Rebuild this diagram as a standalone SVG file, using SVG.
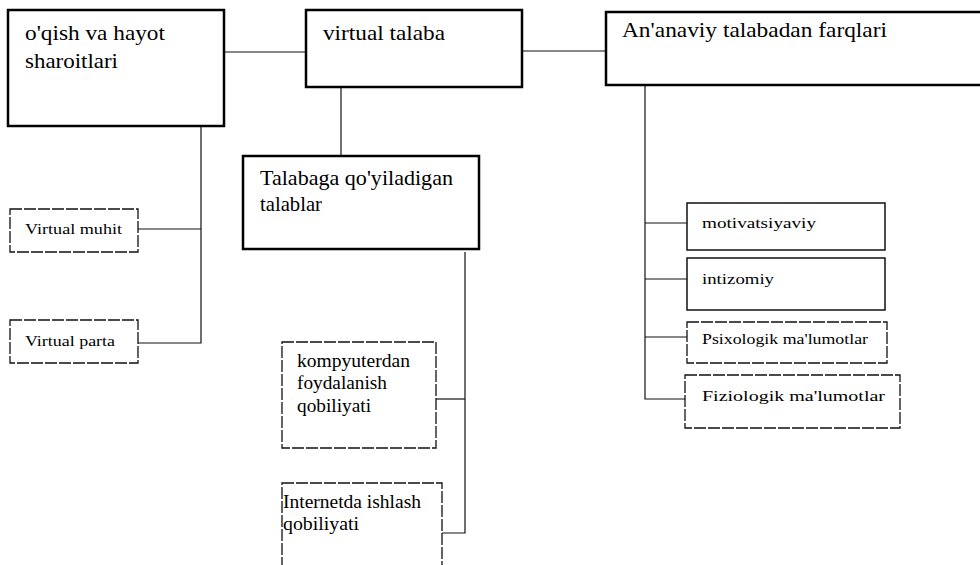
<svg xmlns="http://www.w3.org/2000/svg" width="980" height="565" viewBox="0 0 980 565">
<style>
  .bg { fill: #ffffff; }
  .big { fill: #ffffff; stroke: #000; stroke-width: 2.5; }
  .small { fill: #ffffff; stroke: #111; stroke-width: 1.5; }
  .dsh { fill: #ffffff; stroke: #111; stroke-width: 1.3; stroke-dasharray: 12 2; }
  .conn line, .conn polyline { stroke: #111; stroke-width: 1.2; fill: none; }
  text { font-family: "Liberation Serif", "Times New Roman", serif; fill: #000; }
  .t1 { font-size: 21px; }
  .t2 { font-size: 18px; }
  .t3 { font-size: 15px; }
  .t4 { font-size: 14px; }
</style>
<rect class="bg" x="0" y="0" width="980" height="565"/>

<g id="connectors" class="conn">
  <line x1="224" y1="52" x2="306" y2="52"/>
  <line x1="522" y1="51" x2="606" y2="51"/>
  <line x1="341" y1="87" x2="341" y2="156"/>
  <polyline points="201,126 201,343 138,343"/>
  <line x1="138" y1="229" x2="201" y2="229"/>
  <polyline points="465,252 465,533 442,533"/>
  <line x1="436" y1="399" x2="465" y2="399"/>
  <polyline points="645,85 645,399 685,399"/>
  <line x1="645" y1="223" x2="687" y2="223"/>
  <line x1="645" y1="279" x2="687" y2="279"/>
  <line x1="645" y1="337" x2="687" y2="337"/>
</g>

<g id="oqish">
  <rect class="big" x="8" y="10" width="216" height="116"/>
  <text class="t1" x="25" y="40" textLength="140" lengthAdjust="spacingAndGlyphs">o'qish va hayot</text>
  <text class="t1" x="25" y="68" textLength="93" lengthAdjust="spacingAndGlyphs">sharoitlari</text>
</g>

<g id="virtual-talaba">
  <rect class="big" x="306" y="10" width="216" height="77"/>
  <text class="t1" x="323" y="40" textLength="122" lengthAdjust="spacingAndGlyphs">virtual talaba</text>
</g>

<g id="ananaviy">
  <rect class="big" x="606" y="12" width="384" height="73"/>
  <text class="t1" x="622" y="37" textLength="265" lengthAdjust="spacingAndGlyphs">An'anaviy talabadan farqlari</text>
</g>

<g id="talablar">
  <rect class="big" x="243" y="156" width="236" height="93"/>
  <text class="t1" x="260" y="185" textLength="193" lengthAdjust="spacingAndGlyphs">Talabaga qo'yiladigan</text>
  <text class="t1" x="260" y="211" textLength="62" lengthAdjust="spacingAndGlyphs">talablar</text>
</g>

<g id="virtual-muhit">
  <rect class="dsh" x="10" y="209" width="128" height="43"/>
  <text class="t4" x="25" y="234" textLength="97" lengthAdjust="spacingAndGlyphs">Virtual muhit</text>
</g>

<g id="virtual-parta">
  <rect class="dsh" x="10" y="320" width="128" height="43"/>
  <text class="t4" x="25" y="346" textLength="90" lengthAdjust="spacingAndGlyphs">Virtual parta</text>
</g>

<g id="kompyuterdan">
  <rect class="dsh" x="282" y="342" width="154" height="106"/>
  <text class="t2" x="297" y="367" textLength="113" lengthAdjust="spacingAndGlyphs">kompyuterdan</text>
  <text class="t2" x="297" y="389" textLength="90" lengthAdjust="spacingAndGlyphs">foydalanish</text>
  <text class="t2" x="297" y="412" textLength="74" lengthAdjust="spacingAndGlyphs">qobiliyati</text>
</g>

<g id="internetda">
  <rect class="dsh" x="282" y="483" width="160" height="100"/>
  <text class="t2" x="283" y="508" textLength="138" lengthAdjust="spacingAndGlyphs">Internetda ishlash</text>
  <text class="t2" x="283" y="530" textLength="76" lengthAdjust="spacingAndGlyphs">qobiliyati</text>
</g>

<g id="motivatsiyaviy">
  <rect class="small" x="687" y="203" width="198" height="47"/>
  <text class="t3" x="702" y="228" textLength="114" lengthAdjust="spacingAndGlyphs">motivatsiyaviy</text>
</g>

<g id="intizomiy">
  <rect class="small" x="687" y="258" width="198" height="52"/>
  <text class="t3" x="702" y="284" textLength="72" lengthAdjust="spacingAndGlyphs">intizomiy</text>
</g>

<g id="psixologik">
  <rect class="dsh" x="687" y="322" width="200" height="41"/>
  <text class="t4" x="702" y="344" textLength="166" lengthAdjust="spacingAndGlyphs">Psixologik ma'lumotlar</text>
</g>

<g id="fiziologik">
  <rect class="dsh" x="685" y="375" width="215" height="53"/>
  <text class="t3" x="702" y="401" textLength="183" lengthAdjust="spacingAndGlyphs">Fiziologik ma'lumotlar</text>
</g>
</svg>
